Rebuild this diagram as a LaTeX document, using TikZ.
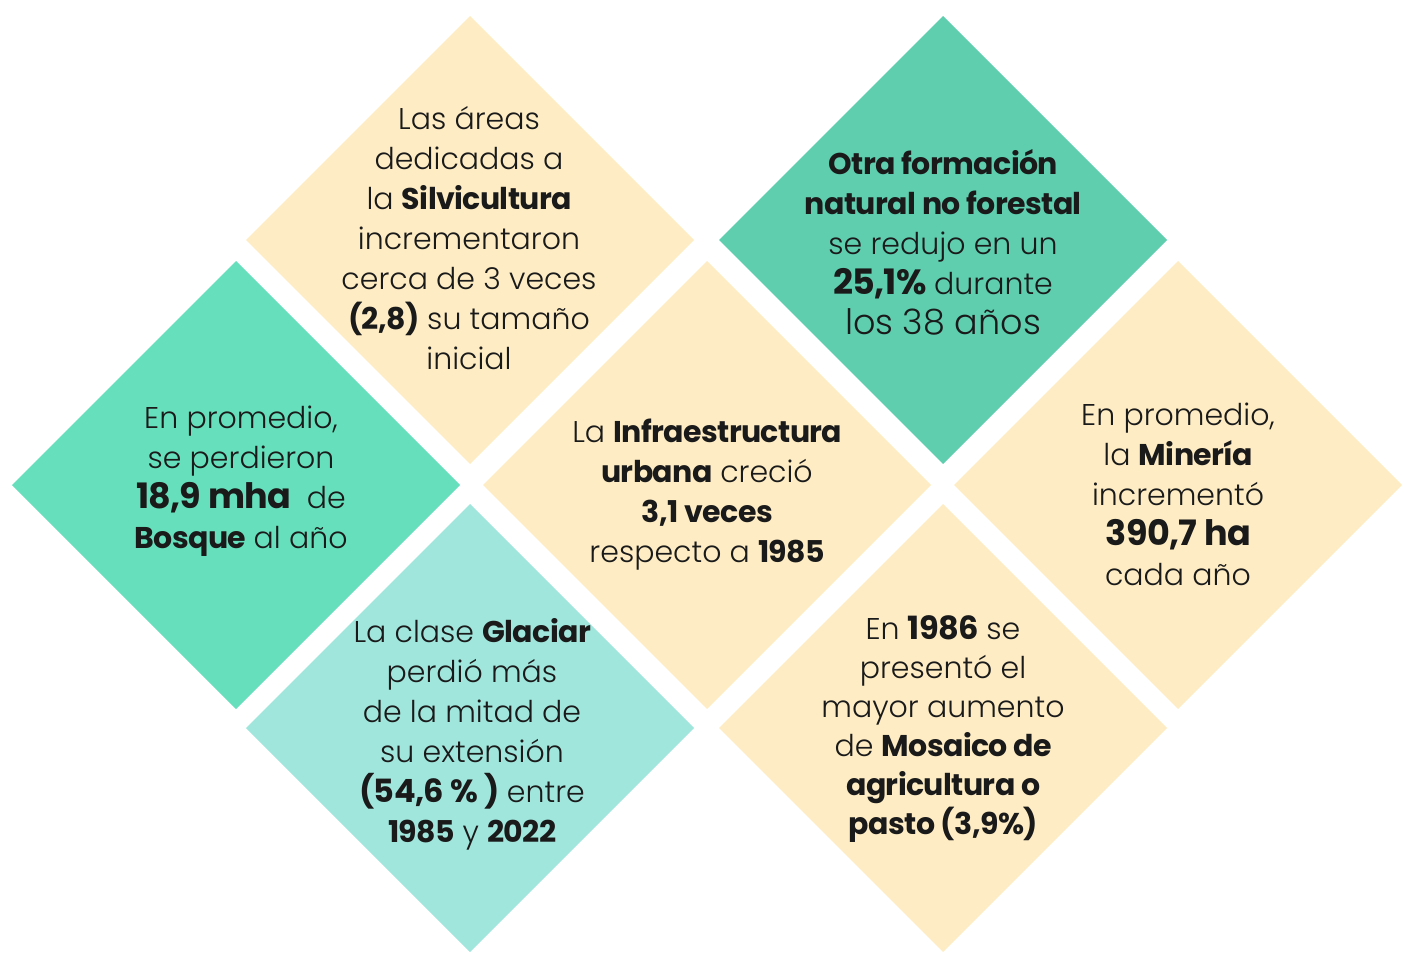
\documentclass[tikz,border=0pt]{standalone}
\usepackage{fontspec}
\setmainfont{Poppins}[UprightFont={* Light},BoldFont={* Bold},BoldFeatures={LetterSpace=-2}]
\definecolor{cream}{HTML}{FEEDC4}
\definecolor{tealA}{HTML}{5ECEAF}
\definecolor{greenA}{HTML}{66E0BC}
\definecolor{aquaA}{HTML}{A0E6DC}
\definecolor{ink}{HTML}{1A1A1A}
\newcommand{\bigsz}{\fontsize{35}{40}\selectfont}
\newcommand{\midsz}{\fontsize{32}{40}\selectfont}
\tikzset{
  dia/.style={fill=#1,draw=none},
  txt/.style={align=center,text=ink,inner sep=0pt,font=\fontsize{30}{40}\selectfont}
}
\begin{document}
\begin{tikzpicture}[x=1pt,y=-1pt]
\useasboundingbox (0,0) rectangle (1405,955);
\path[dia=cream]  (470,16) -- (694,240) -- (470,464) -- (246,240) -- cycle;
\path[dia=tealA]  (943,16) -- (1167,240) -- (943,464) -- (719,240) -- cycle;
\path[dia=greenA] (236,261) -- (460,485) -- (236,709) -- (12,485) -- cycle;
\path[dia=cream]  (707,261) -- (931,485) -- (707,709) -- (483,485) -- cycle;
\path[dia=cream]  (1178,261) -- (1402,485) -- (1178,709) -- (954,485) -- cycle;
\path[dia=aquaA]  (470,504) -- (694,728) -- (470,952) -- (246,728) -- cycle;
\path[dia=cream]  (943,504) -- (1167,728) -- (943,952) -- (719,728) -- cycle;

\node[txt] (t1) at (469,238) {Las áreas\\dedicadas a\\la \textbf{Silvicultura}\\incrementaron\\cerca de 3 veces\\\textbf{(2,8)} su tamaño\\inicial};
\node[txt] (t2) at (943,242) {\textbf{Otra formación}\\\textbf{natural no forestal}\\se redujo en un\\{\bigsz\textbf{25,1\%}} durante\\{\bigsz los 38 años}};
\node[txt] (t3) at (241,481) {En promedio,\\se perdieron\\{\bigsz\textbf{18,9 mha}}\ \ de\\\textbf{Bosque} al año};
\node[txt] (t4) at (707,495) {La \textbf{Infraestructura}\\\textbf{urbana} creció\\\textbf{3,1 veces}\\respecto a \textbf{1985}};
\node[txt] (t5) at (1178,494) {En promedio,\\la \textbf{Minería}\\incrementó\\{\bigsz\textbf{390,7 ha}}\\cada año};
\node[txt] (t6) at (472,734) {La clase \textbf{Glaciar}\\perdió más\\de la mitad de\\su extensión\\{\midsz\textbf{(54,6 \% )}} entre\\\textbf{1985} y \textbf{2022}};
\node[txt,font=\fontsize{30}{39}\selectfont] (t7) at (943,729) {En {\midsz\textbf{1986}} se\\presentó el\\mayor aumento\\de \textbf{Mosaico de}\\\textbf{agricultura o}\\\textbf{pasto (3,9\%)}};
\end{tikzpicture}
\end{document}
